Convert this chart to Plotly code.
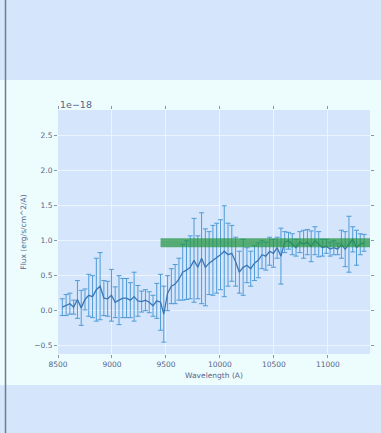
import plotly.graph_objects as go

# Wavelength grid (Angstrom)
wavelength = [8540, 8575, 8610, 8645, 8680, 8715, 8750, 8785, 8820, 8855, 8890, 8925, 8960, 8995,
              9030, 9065, 9100, 9135, 9170, 9205, 9240, 9275, 9310, 9345, 9380, 9415, 9450, 9480,
              9515, 9550, 9585, 9620, 9655, 9690, 9725, 9760, 9795, 9830, 9865, 9900, 9935, 9970,
              10005, 10040, 10075, 10110, 10145, 10180, 10215, 10250, 10285, 10320, 10355, 10390,
              10425, 10460, 10495, 10530, 10565, 10600, 10635, 10670, 10705, 10740, 10775, 10810,
              10845, 10880, 10915, 10950, 10985, 11020, 11055, 11090, 11125, 11160, 11195, 11230,
              11265, 11300, 11335]
# Flux in units of 1e-18 erg/s/cm^2/A
flux = [0.05, 0.08, 0.10, 0.05, 0.16, 0.04, 0.16, 0.22, 0.20, 0.30, 0.35, 0.18, 0.17, 0.22,
        0.12, 0.15, 0.18, 0.18, 0.15, 0.20, 0.14, 0.13, 0.15, 0.12, 0.07, 0.14, 0.12, -0.05,
        0.25, 0.35, 0.38, 0.45, 0.55, 0.58, 0.62, 0.72, 0.62, 0.75, 0.62, 0.68, 0.72, 0.75,
        0.80, 0.85, 0.80, 0.82, 0.70, 0.55, 0.62, 0.65, 0.60, 0.68, 0.72, 0.80,
        0.78, 0.85, 0.82, 0.90, 0.78, 0.98, 1.00, 0.95, 0.90, 0.98, 0.95, 0.98,
        0.92, 1.00, 0.95, 0.90, 0.92, 0.88, 0.90, 0.88, 0.95, 0.88, 0.95, 1.02,
        0.90, 0.95, 0.97]
flux_err = [0.12, 0.15, 0.15, 0.10, 0.27, 0.25, 0.15, 0.30, 0.30, 0.45, 0.48, 0.25, 0.25, 0.37,
            0.22, 0.35, 0.28, 0.28, 0.25, 0.35, 0.22, 0.15, 0.15, 0.15, 0.15, 0.25, 0.40, 0.40,
            0.25, 0.25, 0.28, 0.30, 0.40, 0.42, 0.45, 0.60, 0.45, 0.65, 0.55, 0.45, 0.50, 0.50,
            0.50, 0.65, 0.45, 0.40, 0.35, 0.30, 0.40, 0.25, 0.25, 0.25, 0.25, 0.20,
            0.20, 0.20, 0.20, 0.15, 0.40, 0.15, 0.12, 0.15, 0.12, 0.15, 0.20, 0.18,
            0.22, 0.20, 0.18, 0.12, 0.10, 0.10, 0.10, 0.08, 0.20, 0.25, 0.40, 0.18,
            0.25, 0.15, 0.12]

# Continuum band
band_x = [9450, 11400]
band_y = [0.97, 0.97]

x_ticks = [8500, 9000, 9500, 10000, 10500, 11000]
x_ticktext = ["8500", "9000", "9500", "10000", "10500", "11000"]
y_ticks = [-0.5, 0.0, 0.5, 1.0, 1.5, 2.0, 2.5]
y_ticktext = ["\u22120.5", "0.0", "0.5", "1.0", "1.5", "2.0", "2.5"]

TXT = "#56648a"
FONT = "DejaVu Sans"
BLUE_BG = "#d5e5fc"
CYAN_BG = "#edfdfe"

fig = go.Figure()
fig.add_trace(go.Scatter(
    x=wavelength, y=flux, mode="lines",
    line=dict(color="#3a76b6", width=1.3),
    error_y=dict(type="data", array=flux_err, visible=True,
                 color="#4f9bd6", thickness=1, width=2.5),
    showlegend=False, hoverinfo="skip"))
fig.add_trace(go.Scatter(
    x=band_x, y=band_y, mode="lines",
    line=dict(color="rgba(34,150,64,0.72)", width=9),
    showlegend=False, hoverinfo="skip"))

L, R, T, B = 58, 11, 110, 79
W, H = 381, 433
pw, ph = W - L - R, H - T - B

def px(x):
    return (x - L) / pw

def py(y):
    return (H - B - y) / ph

fig.update_layout(
    width=W, height=H,
    margin=dict(l=L, r=R, t=T, b=B, pad=0),
    paper_bgcolor=CYAN_BG,
    plot_bgcolor=BLUE_BG,
    font=dict(family=FONT, size=7.5, color=TXT),
    shapes=[
        dict(type="rect", xref="paper", yref="paper", layer="below",
             x0=px(-5), x1=px(390), y0=py(80), y1=py(-5),
             fillcolor=BLUE_BG, line=dict(width=0)),
        dict(type="rect", xref="paper", yref="paper", layer="below",
             x0=px(-5), x1=px(390), y0=py(440), y1=py(385),
             fillcolor=BLUE_BG, line=dict(width=0)),
        dict(type="line", xref="paper", yref="paper", layer="above",
             x0=px(5.5), x1=px(5.5), y0=py(433), y1=py(0),
             line=dict(color="#7a7a80", width=1.5)),
    ],
    annotations=[
        dict(text="1e\u221218", xref="paper", yref="paper", x=0, y=py(97),
             xanchor="left", yanchor="top", showarrow=False,
             font=dict(family=FONT, size=9.5, color=TXT)),
    ],
)
fig.update_xaxes(
    range=[8500, 11390], tickmode="array", tickvals=x_ticks, ticktext=x_ticktext,
    ticks="outside", ticklen=3, tickcolor="#8a94aa", tickwidth=1, mirror="ticks",
    showline=False, showgrid=True, gridcolor="#eef4ff", gridwidth=1, zeroline=False,
    title=dict(text="Wavelength (A)", standoff=4, font=dict(size=7.5, color=TXT)),
    tickfont=dict(size=7.5, color=TXT))
fig.update_yaxes(
    range=[-0.62, 2.87], tickmode="array", tickvals=y_ticks, ticktext=y_ticktext,
    ticks="outside", ticklen=3, tickcolor="#8a94aa", tickwidth=1, mirror="ticks",
    showline=False, showgrid=True, gridcolor="#eef4ff", gridwidth=1, zeroline=False,
    title=dict(text="Flux (erg/s/cm^2/A)", standoff=6, font=dict(size=7.5, color=TXT)),
    tickfont=dict(size=7.5, color=TXT))

fig.write_html("out.html")
